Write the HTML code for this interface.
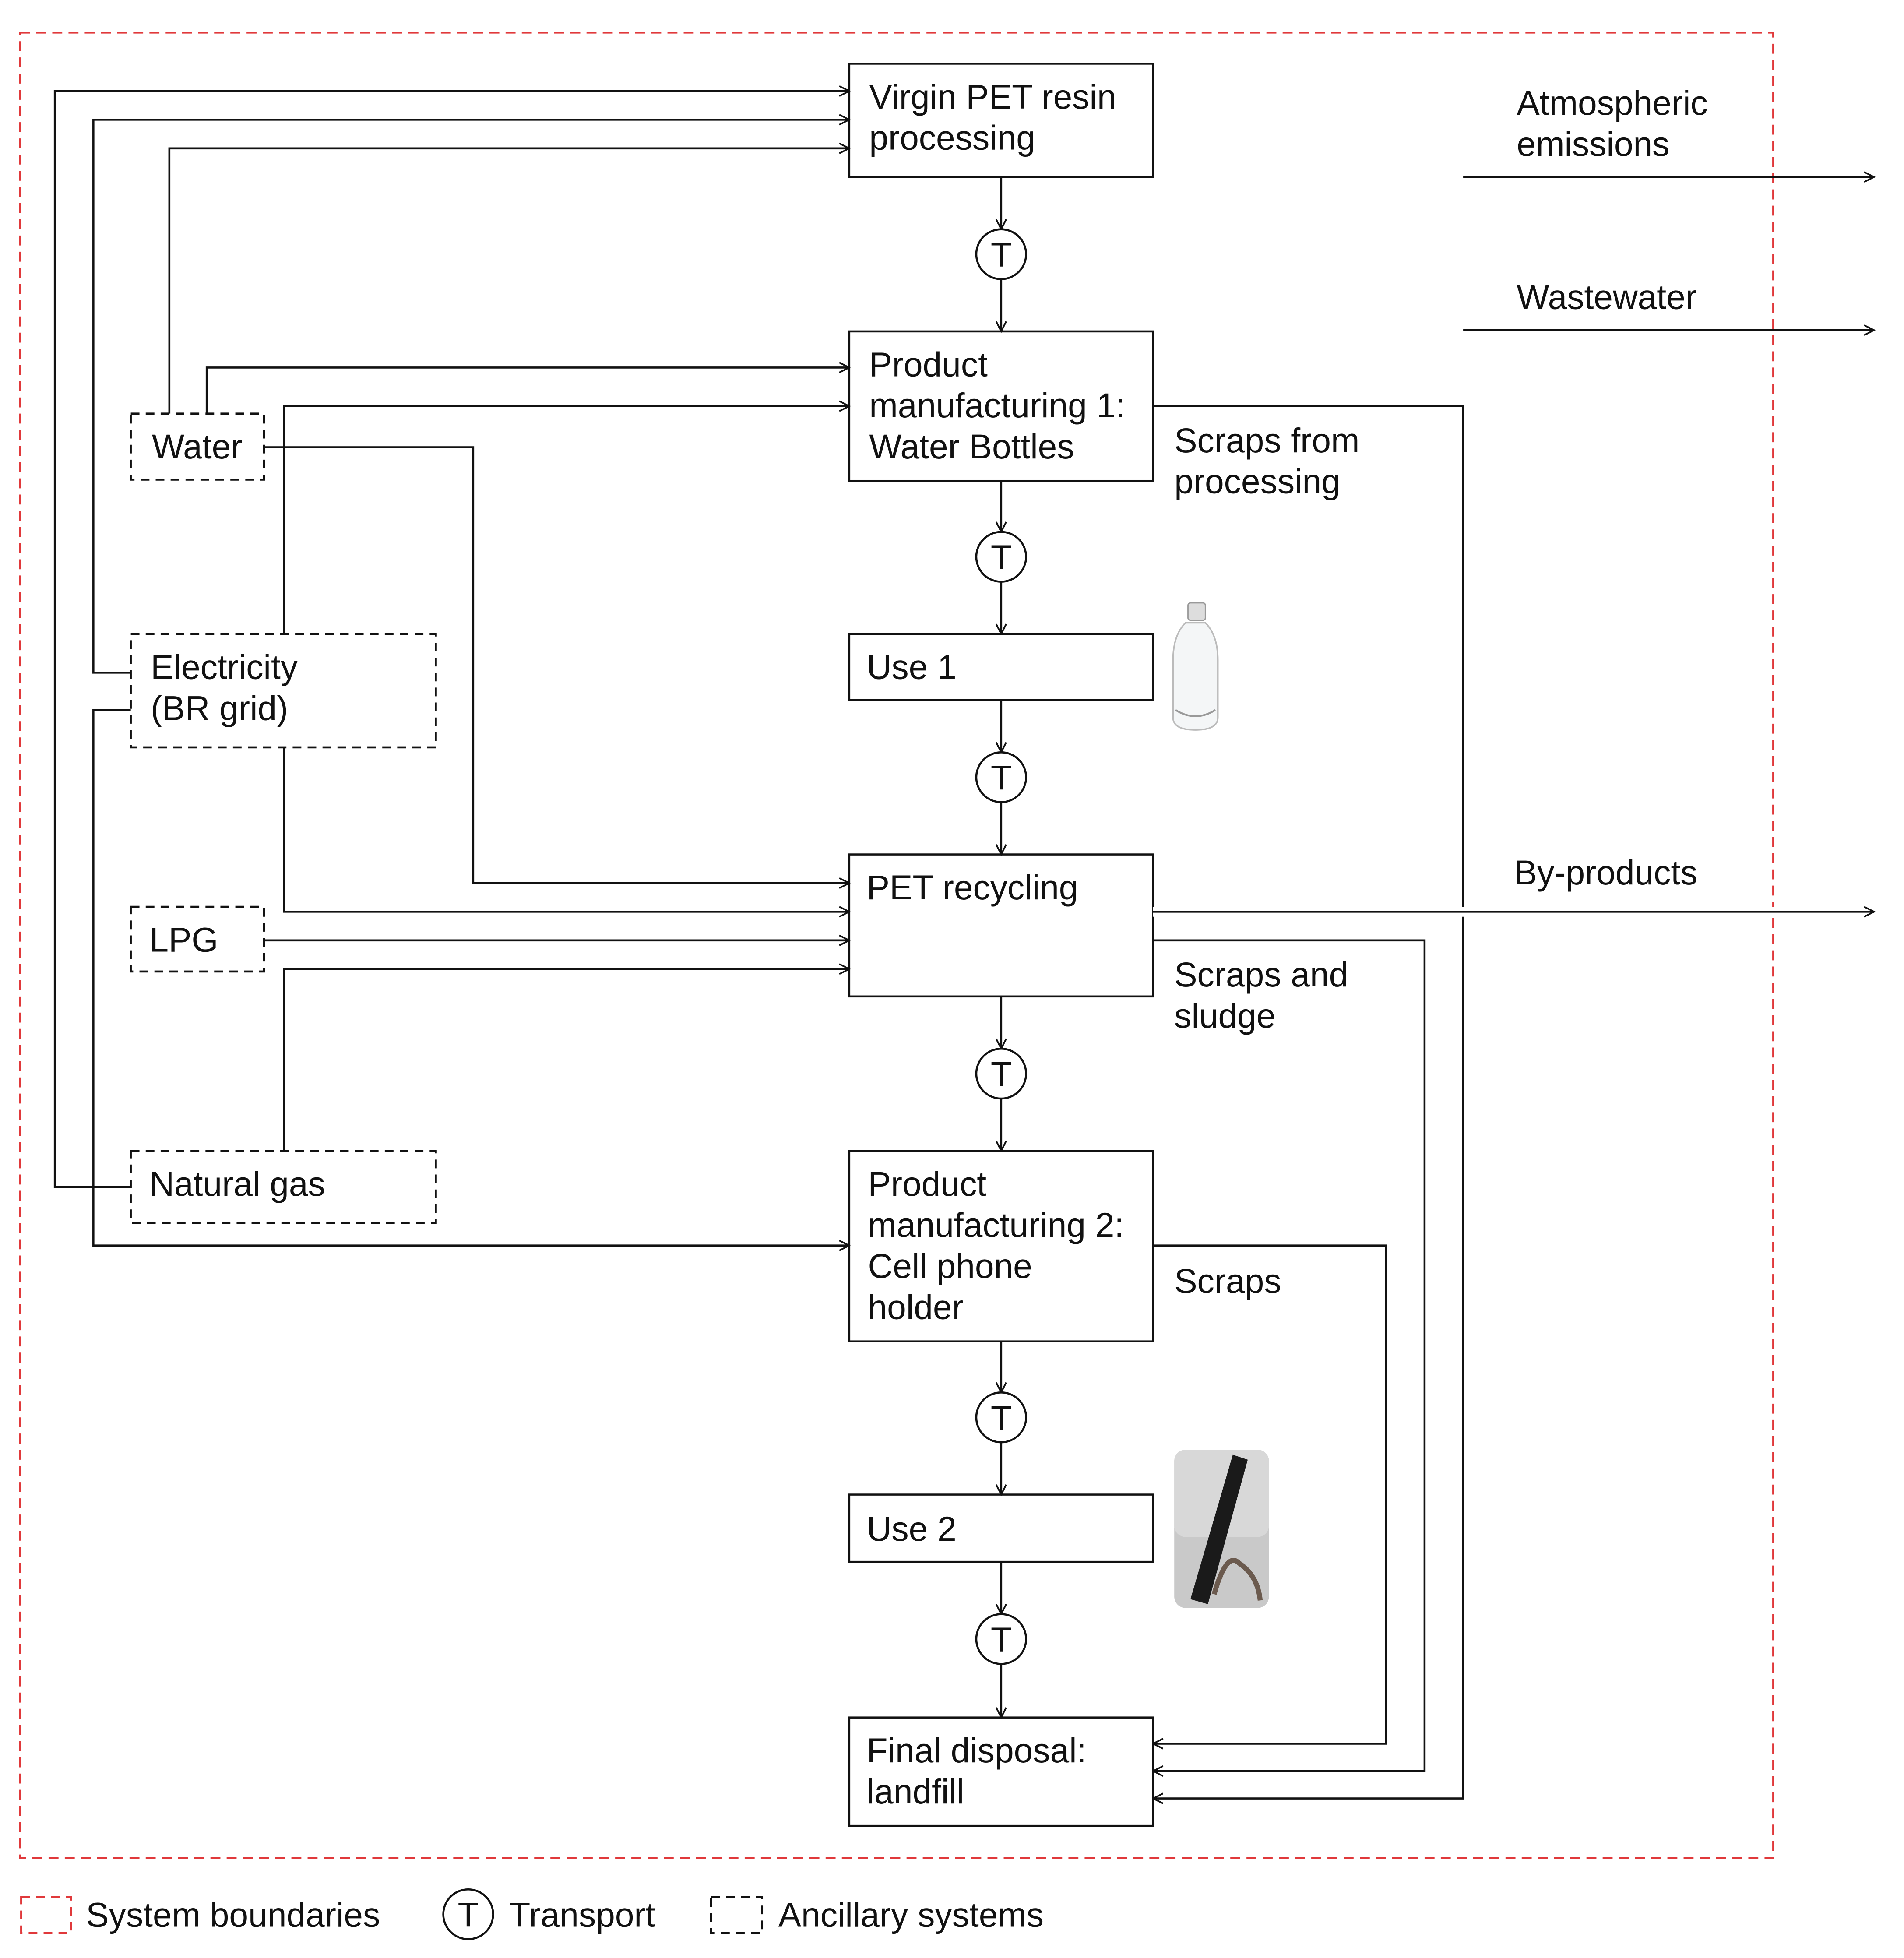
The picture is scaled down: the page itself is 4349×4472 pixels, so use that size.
<!DOCTYPE html>
<html><head><meta charset="utf-8">
<style>
html,body{margin:0;padding:0;background:#fff;}
svg{display:block;}
text{font-family:"Liberation Sans",sans-serif;font-size:27.6px;fill:#111;}
</style></head>
<body>
<svg width="4349" height="4472" viewBox="0 0 1529 1572" xmlns="http://www.w3.org/2000/svg">
<defs>
<marker id="a" markerWidth="10" markerHeight="10" refX="9" refY="5" orient="auto" markerUnits="userSpaceOnUse">
<path d="M1,1 L9,5 L1,9" fill="none" stroke="#111" stroke-width="1.3"/>
</marker>
</defs>
<rect width="1529" height="1572" fill="#fff"/>
<rect x="16" y="26" width="1408" height="1466" fill="none" stroke="#e0393b" stroke-width="1.6" stroke-dasharray="8,5"/>

<g fill="none" stroke="#111" stroke-width="1.6">
<rect x="682" y="51" width="244" height="91" fill="#fff"/>
<rect x="682" y="266" width="244" height="120" fill="#fff"/>
<rect x="682" y="509" width="244" height="53" fill="#fff"/>
<rect x="682" y="686" width="244" height="114" fill="#fff"/>
<rect x="682" y="924" width="244" height="153" fill="#fff"/>
<rect x="682" y="1200" width="244" height="54" fill="#fff"/>
<rect x="682" y="1379" width="244" height="87" fill="#fff"/>
<g stroke-dasharray="7,5">
<rect x="105" y="332" width="107" height="53"/>
<rect x="105" y="509" width="245" height="91"/>
<rect x="105" y="728" width="107" height="52"/>
<rect x="105" y="924" width="245" height="58"/>
</g>
<line x1="804" y1="142" x2="804" y2="184" marker-end="url(#a)"/>
<line x1="804" y1="224" x2="804" y2="266" marker-end="url(#a)"/>
<line x1="804" y1="386" x2="804" y2="427" marker-end="url(#a)"/>
<line x1="804" y1="467" x2="804" y2="509" marker-end="url(#a)"/>
<line x1="804" y1="562" x2="804" y2="604" marker-end="url(#a)"/>
<line x1="804" y1="644" x2="804" y2="686" marker-end="url(#a)"/>
<line x1="804" y1="800" x2="804" y2="842" marker-end="url(#a)"/>
<line x1="804" y1="882" x2="804" y2="924" marker-end="url(#a)"/>
<line x1="804" y1="1077" x2="804" y2="1118" marker-end="url(#a)"/>
<line x1="804" y1="1158" x2="804" y2="1200" marker-end="url(#a)"/>
<line x1="804" y1="1254" x2="804" y2="1296" marker-end="url(#a)"/>
<line x1="804" y1="1336" x2="804" y2="1379" marker-end="url(#a)"/>
<g fill="#fff">
<circle cx="804" cy="204" r="20"/><circle cx="804" cy="447" r="20"/>
<circle cx="804" cy="624" r="20"/><circle cx="804" cy="862" r="20"/>
<circle cx="804" cy="1138" r="20"/><circle cx="804" cy="1316" r="20"/>
</g>
<polyline points="105,953 44,953 44,73 682,73" marker-end="url(#a)"/>
<polyline points="105,540 75,540 75,96 682,96" marker-end="url(#a)"/>
<polyline points="105,570 75,570 75,1000 682,1000" marker-end="url(#a)"/>
<polyline points="136,332 136,119 682,119" marker-end="url(#a)"/>
<polyline points="166,332 166,295 682,295" marker-end="url(#a)"/>
<polyline points="228,509 228,326 682,326" marker-end="url(#a)"/>
<polyline points="212,359 380,359 380,709 682,709" marker-end="url(#a)"/>
<polyline points="228,600 228,732 682,732" marker-end="url(#a)"/>
<polyline points="212,755 682,755" marker-end="url(#a)"/>
<polyline points="228,924 228,778 682,778" marker-end="url(#a)"/>
<polyline points="926,326 1175,326 1175,1444 926,1444" marker-end="url(#a)"/>
<polyline points="926,732 1505,732" stroke="#fff" stroke-width="8"/>
<polyline points="926,732 1505,732" marker-end="url(#a)"/>
<polyline points="926,755 1144,755 1144,1422 926,1422" marker-end="url(#a)"/>
<polyline points="926,1000 1113,1000 1113,1400 926,1400" marker-end="url(#a)"/>
<line x1="1175" y1="142" x2="1505" y2="142" marker-end="url(#a)"/>
<line x1="1175" y1="265" x2="1505" y2="265" marker-end="url(#a)"/>
</g>

<g text-anchor="middle">
<text x="804" y="214">T</text><text x="804" y="457">T</text><text x="804" y="634">T</text>
<text x="804" y="872">T</text><text x="804" y="1148">T</text><text x="804" y="1326">T</text>
</g>

<text x="698" y="87">Virgin PET resin</text>
<text x="698" y="120">processing</text>
<text x="698" y="302">Product</text>
<text x="698" y="335">manufacturing 1:</text>
<text x="698" y="368">Water Bottles</text>
<text x="696" y="545">Use 1</text>
<text x="696" y="722">PET recycling</text>
<text x="697" y="960">Product</text>
<text x="697" y="993">manufacturing 2:</text>
<text x="697" y="1026">Cell phone</text>
<text x="697" y="1059">holder</text>
<text x="696" y="1237">Use 2</text>
<text x="696" y="1415">Final disposal:</text>
<text x="696" y="1448">landfill</text>

<text x="122" y="368">Water</text>
<text x="121" y="545">Electricity</text>
<text x="121" y="578">(BR grid)</text>
<text x="120" y="764">LPG</text>
<text x="120" y="960">Natural gas</text>

<text x="1218" y="92">Atmospheric</text>
<text x="1218" y="125">emissions</text>
<text x="1218" y="248">Wastewater</text>
<text x="943" y="363">Scraps from</text>
<text x="943" y="396">processing</text>
<text x="1216" y="710">By-products</text>
<text x="943" y="792">Scraps and</text>
<text x="943" y="825">sludge</text>
<text x="943" y="1038">Scraps</text>

<g>
<rect x="954" y="484" width="14" height="14" rx="2" fill="#ddd" stroke="#999" stroke-width="1"/>
<path d="M952,500 Q942,510 942,530 L942,576 Q942,586 960,586 Q978,586 978,576 L978,530 Q978,510 968,500 Z" fill="#f4f6f7" stroke="#bbb" stroke-width="1.2"/>
<path d="M944,570 Q960,580 976,570" fill="none" stroke="#999" stroke-width="1.5"/>
</g>
<g>
<rect x="943" y="1164" width="76" height="127" rx="9" fill="#c9c9c9"/>
<rect x="943" y="1164" width="76" height="70" rx="9" fill="#d8d8d8"/>
<path d="M990,1168 L1002,1172 L970,1288 L956,1284 Z" fill="#1a1a1a"/>
<path d="M975,1280 Q985,1245 995,1255 Q1010,1265 1012,1285" fill="none" stroke="#6b5a4e" stroke-width="4"/>
</g>

<rect x="17" y="1523" width="40" height="29" fill="none" stroke="#e0393b" stroke-width="1.6" stroke-dasharray="7,5"/>
<text x="69" y="1547">System boundaries</text>
<circle cx="376" cy="1537" r="20" fill="none" stroke="#111" stroke-width="1.6"/>
<text x="376" y="1547" text-anchor="middle">T</text>
<text x="409" y="1547">Transport</text>
<rect x="571" y="1523" width="41" height="29" fill="none" stroke="#111" stroke-width="1.6" stroke-dasharray="7,5"/>
<text x="625" y="1547">Ancillary systems</text>
</svg>
</body></html>
